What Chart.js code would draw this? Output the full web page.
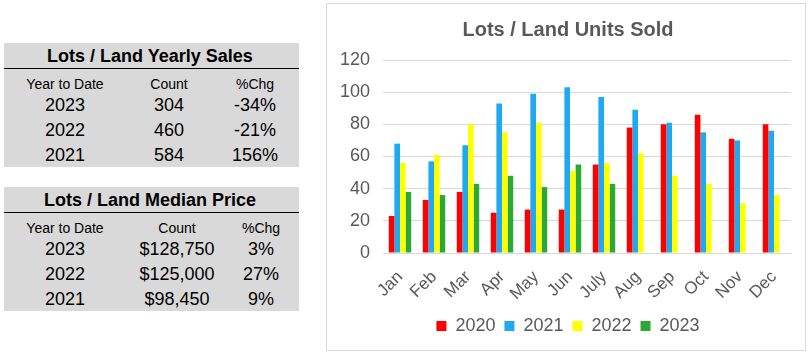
<!DOCTYPE html>
<html>
<head>
<meta charset="utf-8">
<script src="https://cdn.jsdelivr.net/npm/chart.js@4/dist/chart.umd.min.js"></script>
<style>
  body { margin: 0; background: #fff; font-family: "Liberation Sans", Arial, sans-serif; }
  .tbl { position: absolute; left: 4px; width: 295px; height: 124px; background: #d9d9d9; }
  .tbl .rule { position: absolute; left: 0; width: 295px; top: 0; height: 0; border-top: 1px solid #000; }
  .tbl .t { position: absolute; transform: translate(-50%, -50%); white-space: nowrap; color: #000; }
  .title { font-weight: bold; font-size: 18px; }
  .head { font-size: 14px; }
  .val { font-size: 18px; }
  #box { position: absolute; left: 326px; top: 3px; width: 478px; height: 346px; border: 1px solid #d9d9d9; }
</style>
</head>
<body>
<div id="t1" class="tbl" style="top:43px"></div>
<div id="t2" class="tbl" style="top:187px"></div>
<div id="box"><canvas id="c" width="478" height="346"></canvas></div>
<script>
// table data
const salesTitle = 'Lots / Land Yearly Sales';
const priceTitle = 'Lots / Land Median Price';
const headers = ['Year to Date', 'Count', '%Chg'];
const years = ['2023', '2022', '2021'];
const salesCount = ['304', '460', '584'];
const salesChg = ['-34%', '-21%', '156%'];
const priceCount = ['$128,750', '$125,000', '$98,450'];
const priceChg = ['3%', '27%', '9%'];

// chart data
const months = ['Jan', 'Feb', 'Mar', 'Apr', 'May', 'Jun', 'July', 'Aug', 'Sep', 'Oct', 'Nov', 'Dec'];
const units2020 = [23, 33, 38, 25, 27, 27, 55, 78, 80, 86, 71, 80];
const units2021 = [68, 57, 67, 93, 99, 103, 97, 89, 81, 75, 70, 76];
const units2022 = [56, 61, 80, 75, 81, 51, 56, 62, 48, 43, 31, 36];
const units2023 = [38, 36, 43, 48, 41, 55, 43, null, null, null, null, null];

function buildTable(id, title, cols, colX) {
  const el = document.getElementById(id);
  let html = '<div class="t title" style="left:146px;top:13px">' + title + '</div>';
  html += '<div class="rule" style="top:25px"></div>';
  headers.forEach((h, i) => {
    html += '<div class="t head" style="left:' + colX[i] + 'px;top:' + 41 + 'px">' + h + '</div>';
  });
  years.forEach((y, r) => {
    const top = 62 + r * 25;
    const row = [y, cols[0][r], cols[1][r]];
    row.forEach((v, i) => {
      html += '<div class="t val" style="left:' + colX[i] + 'px;top:' + top + 'px">' + v + '</div>';
    });
  });
  el.innerHTML = html;
}
buildTable('t1', salesTitle, [salesCount, salesChg], [61, 165, 251]);
buildTable('t2', priceTitle, [priceCount, priceChg], [61, 173, 257]);

const grey = '#595959';
new Chart(document.getElementById('c'), {
  type: 'bar',
  data: {
    labels: months,
    datasets: [
      { label: '2020', data: units2020, backgroundColor: '#ff0000' },
      { label: '2021', data: units2021, backgroundColor: '#1fa9f0' },
      { label: '2022', data: units2022, backgroundColor: '#ffff00' },
      { label: '2023', data: units2023, backgroundColor: '#2ca836' }
    ]
  },
  options: {
    responsive: false,
    animation: false,
    datasets: { bar: { categoryPercentage: 0.66, barPercentage: 1 } },
    layout: { padding: { left: 4, right: 0, top: 0, bottom: 5 } },
    plugins: {
      title: {
        display: true,
        text: 'Lots / Land Units Sold',
        color: grey,
        font: { family: 'Liberation Sans', size: 20, weight: 'bold' },
        padding: { top: 14, bottom: 18 }
      },
      legend: {
        position: 'bottom',
        labels: {
          color: grey,
          boxWidth: 10,
          boxHeight: 10,
          padding: 9,
          font: { family: 'Liberation Sans', size: 18 }
        }
      },
      tooltip: { enabled: false }
    },
    scales: {
      x: {
        grid: { display: false },
        border: { color: '#d9d9d9' },
        afterFit: (scale) => { scale.height = 55; scale.paddingRight = 14; },
        ticks: {
          color: grey,
          autoSkip: false,
          minRotation: 45,
          maxRotation: 45,
          padding: 6,
          font: { family: 'Liberation Sans', size: 17 }
        }
      },
      y: {
        min: 0,
        max: 120,
        grid: { color: '#d9d9d9', drawTicks: false },
        border: { display: false },
        afterFit: (scale) => { scale.width = 52; },
        ticks: {
          stepSize: 20,
          padding: 13,
          color: grey,
          font: { family: 'Liberation Sans', size: 18 }
        }
      }
    }
  }
});
</script>
</body>
</html>
